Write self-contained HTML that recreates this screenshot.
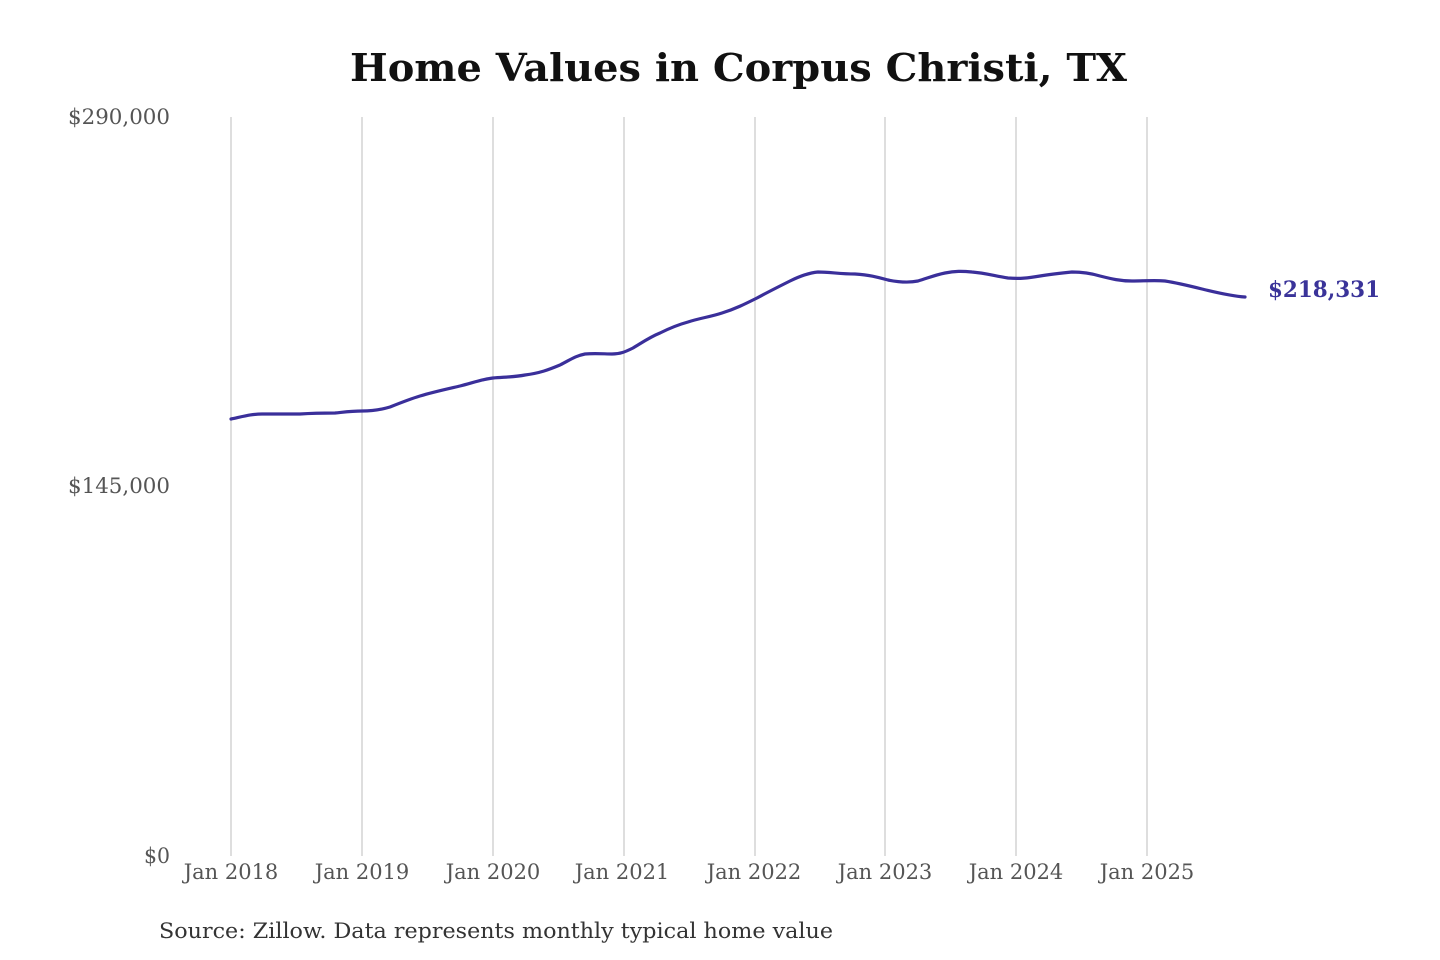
<!DOCTYPE html>
<html><head><meta charset="utf-8"><style>
html,body{margin:0;padding:0;background:#fff;}
svg{display:block;}
text{font-family:"DejaVu Serif","Liberation Serif",serif;}
</style></head><body>
<svg width="1440" height="960" viewBox="0 0 1440 960" xmlns="http://www.w3.org/2000/svg">
<text x="350" y="81" font-size="38" font-weight="bold" fill="#111" textLength="777" lengthAdjust="spacingAndGlyphs">Home Values in Corpus Christi, TX</text>
<g stroke="#c8c8c8" stroke-width="1.2">
<line x1="231" y1="117" x2="231" y2="856"/>
<line x1="362" y1="117" x2="362" y2="856"/>
<line x1="493" y1="117" x2="493" y2="856"/>
<line x1="624" y1="117" x2="624" y2="856"/>
<line x1="755" y1="117" x2="755" y2="856"/>
<line x1="885" y1="117" x2="885" y2="856"/>
<line x1="1016" y1="117" x2="1016" y2="856"/>
<line x1="1147" y1="117" x2="1147" y2="856"/>
</g>
<g font-size="21" fill="#555">
<text x="68" y="124" textLength="102" lengthAdjust="spacingAndGlyphs">$290,000</text>
<text x="68" y="493" textLength="102" lengthAdjust="spacingAndGlyphs">$145,000</text>
<text x="144" y="863" textLength="26" lengthAdjust="spacingAndGlyphs">$0</text>
<g text-anchor="middle">
<text x="231" y="879">Jan 2018</text>
<text x="362" y="879">Jan 2019</text>
<text x="493" y="879">Jan 2020</text>
<text x="622" y="879">Jan 2021</text>
<text x="754" y="879">Jan 2022</text>
<text x="885" y="879">Jan 2023</text>
<text x="1016" y="879">Jan 2024</text>
<text x="1147" y="879">Jan 2025</text>
</g>
</g>
<path fill="none" stroke="#3a2f9a" stroke-width="3.2" stroke-linejoin="round" stroke-linecap="round"
d="M231,419 C245,416 252,414 262,414 C275,414 285,414 300,414 C315,413 325,413 335,413 C345,412 352,411 362,411 C372,411 380,410 390,407 C400,403 410,399 420,396 C433,392 447,389 460,386 C472,383 483,379 493,378 C505,377 515,377 525,375 C540,373 548,370 560,365 C570,360 575,356 585,354 C595,353 605,354 612,354 C620,354 625,352 633,348 C643,342 650,337 660,333 C670,328 677,325 688,322 C700,318 710,317 722,313 C735,309 745,304 757,298 C768,292 778,287 790,281 C800,276 808,273 818,272 C830,272 840,274 855,274 C870,275 877,277 888,280 C898,282 908,283 918,281 C928,278 935,275 945,273 C955,271 962,271 972,272 C985,273 995,276 1008,278 C1020,279 1028,278 1040,276 C1052,274 1062,273 1072,272 C1082,272 1090,273 1100,276 C1112,279 1120,281 1132,281 C1145,281 1155,280 1165,281 C1178,283 1190,286 1202,289 C1215,292 1230,296 1245,297"/>
<text x="1268" y="297" font-size="22" font-weight="bold" fill="#3a3399" textLength="112" lengthAdjust="spacingAndGlyphs">$218,331</text>
<text x="159" y="938" font-size="21" fill="#333" textLength="674" lengthAdjust="spacingAndGlyphs">Source: Zillow. Data represents monthly typical home value</text>
</svg>
</body></html>
